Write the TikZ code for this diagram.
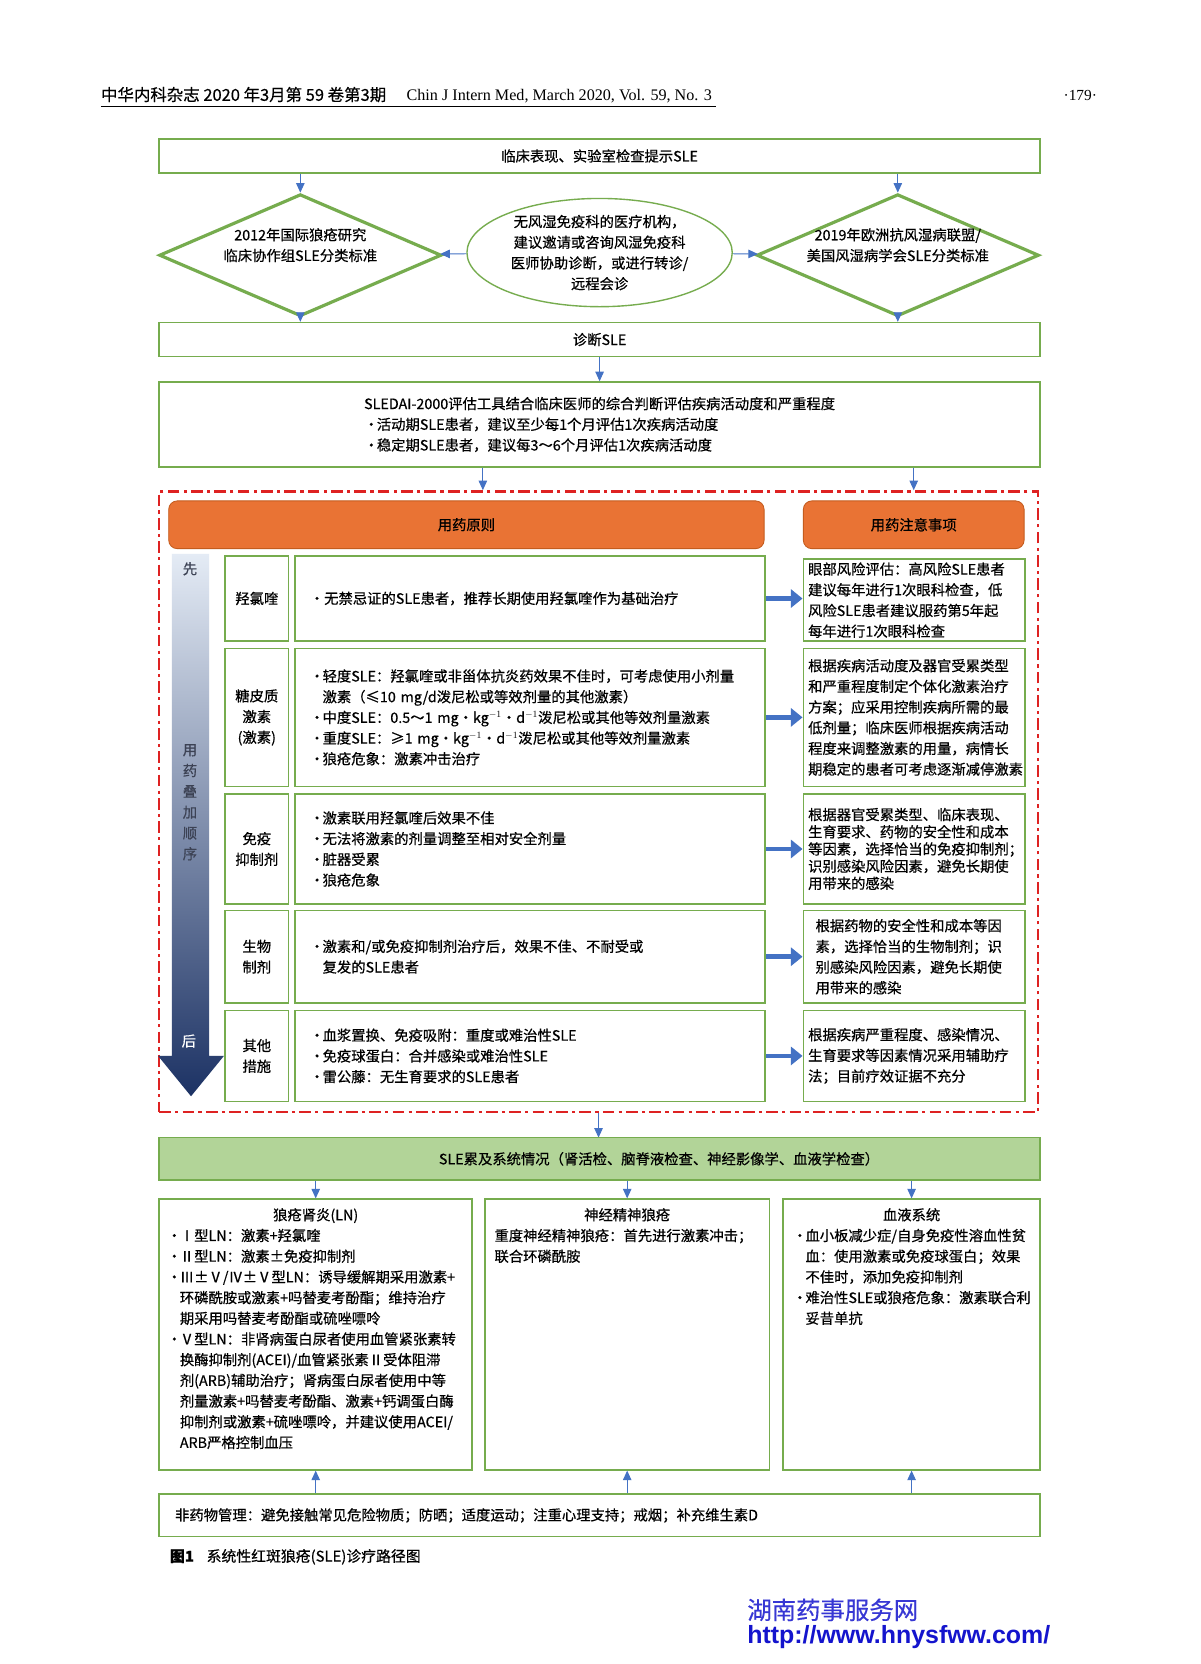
\documentclass[tikz,border=0pt]{standalone}
\usepackage{fontspec}
\setmainfont{Noto Sans CJK SC}[FakeBold=0.5]
\newfontfamily\latinfont{Liberation Serif}
\newfontfamily\webfont{Liberation Sans}
\usetikzlibrary{arrows.meta,calc,shapes.geometric}

\definecolor{boxgreen}{RGB}{118,172,78}
\definecolor{fillgreen}{RGB}{178,212,152}
\definecolor{arrblue}{RGB}{68,114,196}
\definecolor{hdrorange}{RGB}{233,115,52}
\definecolor{hdredge}{RGB}{196,92,30}
\definecolor{dashred}{RGB}{222,34,34}
\definecolor{navy}{RGB}{28,50,100}
\definecolor{paleblue}{RGB}{228,235,245}
\definecolor{midblue}{RGB}{112,144,198}
\definecolor{ordertxt}{RGB}{60,66,84}
\definecolor{webblue}{RGB}{20,20,205}

\newcommand{\bulpt}{\makebox[12pt][l]{•}}
\newcommand{\bulgap}{\hspace*{12pt}}

\begin{document}
\begin{tikzpicture}[
  x=1pt, y=-1pt,
  every node/.style={font=\fontsize{13.5}{19.5}\selectfont, inner sep=0pt},
  box/.style={rectangle, draw=boxgreen, line width=1.5pt, fill=white, align=center},
  dia/.style={diamond, aspect=2.3, draw=boxgreen, line width=3pt, fill=white, minimum width=266, minimum height=115},
  hdr/.style={rectangle, rounded corners=8pt, draw=hdredge, line width=0.8pt, fill=hdrorange, minimum height=45},
  lbl/.style={box, minimum width=60},
  txt/.style={box, align=left, minimum width=443, text width=415},
  note/.style={box, align=left, minimum width=209, text width=200},
  panel/.style={box, minimum height=255},
  arr/.style={-{Triangle[width=8pt,length=9pt]}, line width=0.9pt, draw=arrblue},
  bigarr/.style={-{Triangle[width=17pt,length=11pt]}, line width=4.5pt, draw=arrblue}
]
% page
\fill[white] (0,0) rectangle (1131,1568);
\useasboundingbox (0,0) rectangle (1131,1568);

% running head
\node[anchor=base west, font=\fontsize{15.5}{17}\selectfont] (jcn) at (95,95) {中华内科杂志 2020 年3月第 59 卷第3期};
\node[anchor=base west, font=\latinfont\fontsize{15.2}{17}\selectfont] (jen) at (383,95) {Chin J Intern Med, March 2020, Vol. 59, No. 3};
\draw[line width=0.6pt] (95,100) -- (675,100);
\node[font=\latinfont\fontsize{14.5}{16}\selectfont] (pg) at (1018,90) {·179·};

% diagnosis
\node[box, minimum width=830, minimum height=32] (box1) at (565,147) {临床表现、实验室检查提示SLE};
\node[dia] (dL) at (283,240.5) {};
\node[align=center] (dLtxt) at (283,231) {2012年国际狼疮研究\\临床协作组SLE分类标准};
\node[dia] (dR) at (846,240.5) {};
\node[align=center] (dRtxt) at (846,231) {2019年欧洲抗风湿病联盟/\\美国风湿病学会SLE分类标准};
\node[ellipse, draw=boxgreen, line width=1.3pt, fill=white, align=center, minimum width=250, minimum height=102] (ell) at (565,238) {无风湿免疫科的医疗机构，\\建议邀请或咨询风湿免疫科\\医师协助诊断，或进行转诊/\\远程会诊};
\node[box, minimum width=830, minimum height=32] (box2) at (565,320) {诊断SLE};
\node[box, minimum width=830, minimum height=80, align=left] (box3) at (565,400) {SLEDAI-2000评估工具结合临床医师的综合判断评估疾病活动度和严重程度\\\bulpt 活动期SLE患者，建议至少每1个月评估1次疾病活动度\\\bulpt 稳定期SLE患者，建议每3～6个月评估1次疾病活动度};

\draw[arr] (box1.south -| dL) -- (dL.north);
\draw[arr] (box1.south -| dR) -- (dR.north);
\draw[arr] (ell) -- (dL);
\draw[arr] (ell) -- (dR);
\draw[arr] (dL.south) -- (box2.north -| dL);
\draw[arr] (dR.south) -- (box2.north -| dR);
\draw[arr] (box2) -- (box3);

% treatment zone
\node[draw=dashred, line width=2.2pt, dash pattern=on 11pt off 4pt on 3pt off 4pt, minimum width=828, minimum height=585] (zone) at (564,755.5) {};
\node[hdr, minimum width=561] (hdrL) at (439.5,494.5) {用药原则};
\node[hdr, minimum width=208] (hdrR) at (861,494.5) {用药注意事项};

\coordinate (pL) at (455,450);
\draw[arr] (box3.south -| pL) -- (zone.north -| pL);
\draw[arr] (box3.south -| hdrR) -- (zone.north -| hdrR);

% order arrow
\shade[top color=paleblue, middle color=midblue, bottom color=navy] (162,522) -- (197,522) -- (197,995) -- (211,995) -- (180,1033) -- (149,995) -- (162,995) -- cycle;
\node[text=ordertxt] (first) at (179,536) {先};
\node[align=center, text=ordertxt, font=\fontsize{13.5}{19.6}\selectfont] (order) at (179,756) {用\\药\\叠\\加\\顺\\序};
\node[text=white] (last) at (178,981) {后};

% rows
\node[lbl, minimum height=80] (l1) at (242,564) {羟氯喹};
\node[txt, minimum height=80] (t1) at (499.5,564) {•无禁忌证的SLE患者，推荐长期使用羟氯喹作为基础治疗};
\node[note, minimum height=77] (n1) at (861.5,565.5) {眼部风险评估：高风险SLE患者\\建议每年进行1次眼科检查，低\\风险SLE患者建议服药第5年起\\每年进行1次眼科检查};

\node[lbl, minimum height=130] (l2) at (242,676) {糖皮质\\激素\\(激素)};
\node[txt, minimum height=130] (t2) at (499.5,676) {\bulpt 轻度SLE：羟氯喹或非甾体抗炎药效果不佳时，可考虑使用小剂量\\\bulgap 激素（≤10 mg/d泼尼松或等效剂量的其他激素）\\\bulpt 中度SLE：0.5～1 mg·kg$^{-1}$·d$^{-1}$泼尼松或其他等效剂量激素\\\bulpt 重度SLE：≥1 mg·kg$^{-1}$·d$^{-1}$泼尼松或其他等效剂量激素\\\bulpt 狼疮危象：激素冲击治疗};
\node[note, minimum height=130] (n2) at (861.5,676) {根据疾病活动度及器官受累类型\\和严重程度制定个体化激素治疗\\方案；应采用控制疾病所需的最\\低剂量；临床医师根据疾病活动\\程度来调整激素的用量，病情长\\期稳定的患者可考虑逐渐减停激素};

\node[lbl, minimum height=104] (l3) at (242,800) {免疫\\抑制剂};
\node[txt, minimum height=104] (t3) at (499.5,800) {\bulpt 激素联用羟氯喹后效果不佳\\\bulpt 无法将激素的剂量调整至相对安全剂量\\\bulpt 脏器受累\\\bulpt 狼疮危象};
\node[note, minimum height=104, font=\fontsize{13.5}{16.2}\selectfont] (n3) at (861.5,800) {根据器官受累类型、临床表现、\\生育要求、药物的安全性和成本\\等因素，选择恰当的免疫抑制剂；\\识别感染风险因素，避免长期使\\用带来的感染};

\node[lbl, minimum height=87] (l4) at (242,901.5) {生物\\制剂};
\node[txt, minimum height=87] (t4) at (499.5,901.5) {\bulpt 激素和/或免疫抑制剂治疗后，效果不佳、不耐受或\\\bulgap 复发的SLE患者};
\node[note, minimum height=87, text width=186] (n4) at (861.5,901.5) {根据药物的安全性和成本等因\\素，选择恰当的生物制剂；识\\别感染风险因素，避免长期使\\用带来的感染};

\node[lbl, minimum height=86] (l5) at (242,995) {其他\\措施};
\node[txt, minimum height=86] (t5) at (499.5,995) {\bulpt 血浆置换、免疫吸附：重度或难治性SLE\\\bulpt 免疫球蛋白：合并感染或难治性SLE\\\bulpt 雷公藤：无生育要求的SLE患者};
\node[note, minimum height=86] (n5) at (861.5,995) {根据疾病严重程度、感染情况、\\生育要求等因素情况采用辅助疗\\法；目前疗效证据不充分};

\foreach \r in {1,...,5}
  \draw[bigarr] (t\r.east) -- (n\r.west |- t\r.east);

% organ systems
\draw[arr] (zone.south) -- (zone.south |- 0,1072);
\node[box, fill=fillgreen, minimum width=830, minimum height=40] (sys) at (565,1092) {\hspace*{112pt}SLE累及系统情况（肾活检、脑脊液检查、神经影像学、血液学检查）};

\node[panel, minimum width=295] (ln) at (297.5,1257.5) {};
\node[panel, minimum width=268] (neu) at (591,1257.5) {};
\node[panel, minimum width=242] (hem) at (859,1257.5) {};
\node[anchor=north, align=left, text width=280] (lnT) at ($(ln.north)+(0,9)$) {\makebox[280pt]{狼疮肾炎(LN)}\\\bulpt Ⅰ型LN：激素+羟氯喹\\\bulpt Ⅱ型LN：激素±免疫抑制剂\\\bulpt Ⅲ±Ⅴ/Ⅳ±Ⅴ型LN：诱导缓解期采用激素+\\\bulgap 环磷酰胺或激素+吗替麦考酚酯；维持治疗\\\bulgap 期采用吗替麦考酚酯或硫唑嘌呤\\\bulpt Ⅴ型LN：非肾病蛋白尿者使用血管紧张素转\\\bulgap 换酶抑制剂(ACEI)/血管紧张素Ⅱ受体阻滞\\\bulgap 剂(ARB)辅助治疗；肾病蛋白尿者使用中等\\\bulgap 剂量激素+吗替麦考酚酯、激素+钙调蛋白酶\\\bulgap 抑制剂或激素+硫唑嘌呤，并建议使用ACEI/\\\bulgap ARB严格控制血压};
\node[anchor=north, align=left, text width=250] (neuT) at ($(neu.north)+(0,9)$) {\makebox[250pt]{神经精神狼疮}\\重度神经精神狼疮：首先进行激素冲击；\\联合环磷酰胺};
\node[anchor=north, align=left, text width=224] (hemT) at ($(hem.north)+(0,9)$) {\makebox[224pt]{血液系统}\\\bulpt 血小板减少症/自身免疫性溶血性贫\\\bulgap 血：使用激素或免疫球蛋白；效果\\\bulgap 不佳时，添加免疫抑制剂\\\bulpt 难治性SLE或狼疮危象：激素联合利\\\bulgap 妥昔单抗};

\node[box, minimum width=830, minimum height=40, align=left, text width=800] (nondrug) at (565,1428) {非药物管理：避免接触常见危险物质；防晒；适度运动；注重心理支持；戒烟；补充维生素D};

\foreach \p in {ln,neu,hem} {
  \draw[arr] (sys.south -| \p) -- (\p.north);
  \draw[arr] (nondrug.north -| \p) -- (\p.south);
}

% caption and mark
\node[anchor=west, font=\fontsize{14}{16}\selectfont] (cap) at (160,1467) {\textbf{图1}\hspace{12pt}系统性红斑狼疮(SLE)诊疗路径图};
\node[anchor=west, text=webblue!85!white, font=\fontsize{23}{26}\selectfont] (site) at (704,1517) {湖南药事服务网};
\node[anchor=west, text=webblue, font=\webfont\bfseries\fontsize{23.5}{26}\selectfont] (url) at (704,1543) {http://www.hnysfww.com/};
\end{tikzpicture}
\end{document}
